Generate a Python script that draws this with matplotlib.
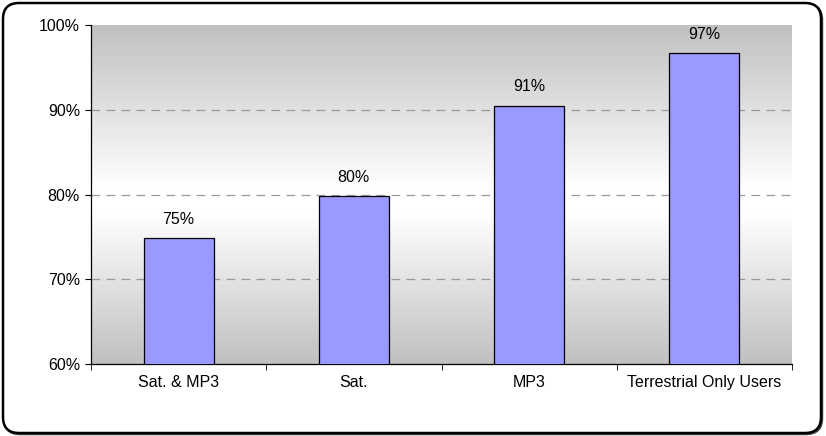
import numpy as np
import matplotlib.pyplot as plt
from matplotlib.colors import LinearSegmentedColormap
from matplotlib.patches import FancyBboxPatch

# * Data
categories = ["Sat. & MP3", "Sat.", "MP3", "Terrestrial Only Users"]
values = [74.9, 79.8, 90.5, 96.7]
labels = ["75%", "80%", "91%", "97%"]
yticks = [60, 70, 80, 90, 100]

plt.rcParams['font.family'] = ['Liberation Sans', 'DejaVu Sans']

fig = plt.figure(figsize=(8.26, 4.36), dpi=100)
fig.patch.set_facecolor("white")

# * Rounded outer frame with a small shadow
shadow = FancyBboxPatch((4 / 100, 2 / 100), 818 / 100, 430 / 100,
                        boxstyle="round,pad=0,rounding_size=0.16",
                        transform=fig.dpi_scale_trans, facecolor="none",
                        edgecolor="#444444", linewidth=1.8, zorder=-2)
frame = FancyBboxPatch((3 / 100, 3 / 100), 818 / 100, 430 / 100,
                       boxstyle="round,pad=0,rounding_size=0.16",
                       transform=fig.dpi_scale_trans, facecolor="white",
                       edgecolor="black", linewidth=1.8, zorder=-1)
fig.patches.extend([shadow, frame])

ax = fig.add_axes([91 / 826, 72 / 436, 701 / 826, 339 / 436])
ax.set_facecolor("none")

# * Gradient background: gray - white - gray
cmap = LinearSegmentedColormap.from_list(
    "bg", [(0, "#c0c0c0"), (0.48, "#ffffff"), (0.56, "#ffffff"), (1, "#c0c0c0")])
grad = np.linspace(0, 1, 256).reshape(-1, 1)
ax.imshow(grad, cmap=cmap, aspect="auto", extent=[0, 1, 0, 1],
          transform=ax.transAxes, zorder=0)

x = np.arange(len(categories))
ax.bar(x, values, width=0.4, bottom=0, color="#9999ff", edgecolor="black",
       linewidth=0.9, zorder=3)
ax.set_xlim(-0.5, len(categories) - 0.5)
ax.set_ylim(60, 100)

for xi, v, lab in zip(x, values, labels):
    ax.text(xi, v + 1.3, lab, ha="center", va="bottom", fontsize=11.5, zorder=4)

# * Gridlines
for t in yticks[1:-1]:
    ax.axhline(t, color="#999999", linestyle=(0, (7, 5)), linewidth=0.9, zorder=1)

ax.set_yticks(yticks)
ax.set_yticklabels([f"{t}%" for t in yticks], fontsize=11.5)
ax.set_xticks(x)
ax.set_xticklabels(categories, fontsize=11.5)
ax.tick_params(axis="x", length=0, pad=8)
ax.set_xticks(np.arange(-0.5, len(categories)), minor=True)
ax.tick_params(axis="x", which="minor", length=4, direction="out", color="black")
ax.tick_params(axis="y", length=4, direction="out", pad=4)

for side in ["top", "right"]:
    ax.spines[side].set_visible(False)
ax.spines["left"].set_color("black")
ax.spines["bottom"].set_color("black")
ax.spines["left"].set_linewidth(0.9)
ax.spines["bottom"].set_linewidth(0.9)

fig.savefig("out.png", dpi=100)
